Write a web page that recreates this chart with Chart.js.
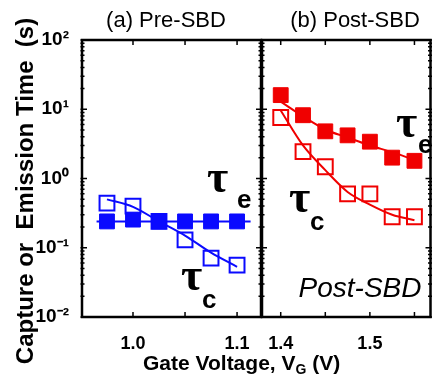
<!DOCTYPE html>
<html>
<head>
<meta charset="utf-8">
<script src="https://cdn.jsdelivr.net/npm/chart.js@4.4.0/dist/chart.umd.min.js"></script>
<style>
  body { margin: 0; background: #fff; }
  #wrap { position: relative; width: 443px; height: 376px; }
  canvas { position: absolute; left: 0; top: 0; }
</style>
</head>
<body>
<div id="wrap">
  <canvas id="pre" width="443" height="376" style="width:443px;height:376px"></canvas>
  <canvas id="post" width="443" height="376" style="width:443px;height:376px"></canvas>
</div>
<script>
// (a) Pre-SBD, gate voltage in V, times in s
var preVg = [0.975, 1.0, 1.025, 1.05, 1.075, 1.1];
var preTauE = [0.24, 0.255, 0.24, 0.24, 0.24, 0.24];
var preTauC = [0.44, 0.40, 0.24, 0.13, 0.071, 0.056];
var preFitVg = [0.975, 1.0, 1.025, 1.05, 1.075, 1.1];
var preFitTauC = [0.50, 0.39, 0.24, 0.15, 0.085, 0.053];
var preFitTauEVg = [0.965, 1.113];
var preFitTauE = [0.24, 0.24];

// (b) Post-SBD
var postVg = [1.4, 1.425, 1.45, 1.475, 1.5, 1.525, 1.55];
var postTauE = [16, 8.2, 4.8, 4.2, 3.4, 2.0, 1.8];
var postTauC = [7.6, 2.45, 1.48, 0.60, 0.60, 0.28, 0.28];
var postFitTauE = [12.9, 7.9, 5.1, 3.9, 3.0, 2.4, 1.85];
var postFitTauC = [9.6, 3.0, 1.32, 0.64, 0.42, 0.30, 0.25];

var yTickValues = [0.01, 0.1, 1, 10, 100];
var yTickLabels = ['10\u207B\u00B2', '10\u207B\u00B9', '10\u2070', '10\u00B9', '10\u00B2'];
var preXTicks = [1.0, 1.1];
var preXMinor = [1.0, 1.05, 1.1];
var postXTicks = [1.4, 1.5];
var postXMinor = [1.4, 1.45, 1.5, 1.55];

var BLUE = '#0a0aff';
var RED = '#f00000';
var SANS = "'Liberation Sans', Arial, sans-serif";

function pts(xs, ys) {
    return xs.map(function(x, i) { return {x: x, y: ys[i]}; });
}

function markers(label, xs, ys, color, filled) {
    return {
        label: label, data: pts(xs, ys), showLine: false,
        pointStyle: 'rect', pointRadius: 10.5,
        backgroundColor: filled ? color : 'rgba(0,0,0,0)',
        borderColor: color, borderWidth: filled ? 1 : 2, order: 1
    };
}

function fit(label, xs, ys, color) {
    return {
        label: label, data: pts(xs, ys), pointRadius: 0,
        borderColor: color, borderWidth: 2, fill: false,
        cubicInterpolationMode: 'monotone', order: 2
    };
}

// frame + inward ticks, drawn on each panel
function framePlugin(xMinor) {
    return {
        id: 'frame',
        afterDatasetsDraw: function(chart) {
            var ctx = chart.ctx, a = chart.chartArea;
            var xs = chart.scales.x, ys = chart.scales.y;
            ctx.save();
            ctx.strokeStyle = '#000';
            ctx.lineWidth = 1.5;
            ctx.beginPath();
            xMinor.forEach(function(v) {
                var px = xs.getPixelForValue(v);
                ctx.moveTo(px, a.bottom); ctx.lineTo(px, a.bottom - 5);
                ctx.moveTo(px, a.top); ctx.lineTo(px, a.top + 5);
            });
            for (var d = -2; d <= 2; d++) {
                for (var k = 1; k <= 9; k++) {
                    var v = k * Math.pow(10, d);
                    if (v > 100) break;
                    var py = ys.getPixelForValue(v);
                    var len = k === 1 ? 5 : 2.5;
                    ctx.moveTo(a.left - 1.5, py); ctx.lineTo(a.left + len, py);
                    ctx.moveTo(a.right + 1.5, py); ctx.lineTo(a.right - len, py);
                }
            }
            ctx.stroke();
            ctx.lineWidth = 2.5;
            ctx.strokeRect(a.left, a.top, a.right - a.left, a.bottom - a.top);
            ctx.restore();
        }
    };
}

var textPlugin = {
    id: 'labels',
    afterDraw: function(chart) {
        var ctx = chart.ctx;
        ctx.save();
        ctx.fillStyle = '#000';
        ctx.textBaseline = 'alphabetic';

        ctx.textAlign = 'center';
        ctx.font = '22px ' + SANS;
        ctx.fillText('(a) Pre-SBD', 166, 27);
        ctx.fillText('(b) Post-SBD', 355, 27);

        ctx.save();
        ctx.translate(33, 191);
        ctx.rotate(-Math.PI / 2);
        ctx.font = 'bold 24px ' + SANS;
        ctx.fillText('Capture or  Emission Time  (s)', 0, 0);
        ctx.restore();

        // x title with subscript G
        ctx.textAlign = 'left';
        var x = 143;
        ctx.font = 'bold 21px ' + SANS;
        ctx.fillText('Gate Voltage, V', x, 370);
        x += ctx.measureText('Gate Voltage, V').width;
        ctx.font = 'bold 14px ' + SANS;
        ctx.fillText('G', x, 374);
        x += ctx.measureText('G').width;
        ctx.font = 'bold 21px ' + SANS;
        ctx.fillText(' (V)', x, 370);

        // tau labels
        var tau = 'bold 46px "Liberation Serif", "Times New Roman", serif';
        var sub = 'bold 26px ' + SANS;
        [[207, 192, 237, 208, 'e'], [181, 290, 202, 308, 'c'],
         [396, 137, 418, 153, 'e'], [289, 212, 310, 230, 'c']].forEach(function(t) {
            ctx.font = tau;
            ctx.fillText('\u03C4', t[0], t[1]);
            ctx.font = sub;
            ctx.fillText(t[4], t[2], t[3]);
        });

        ctx.textAlign = 'center';
        ctx.font = 'italic 28px ' + SANS;
        ctx.fillText('Post-SBD', 360, 297);
        ctx.restore();
    }
};

function scales(xmin, xmax, xTicks, showY) {
    return {
        x: {
            type: 'linear', min: xmin, max: xmax,
            grid: {display: false}, border: {display: false},
            afterBuildTicks: function(s) { s.ticks = xTicks.map(function(v) { return {value: v}; }); },
            afterFit: function(s) { s.height = 59; },
            ticks: {
                padding: 8, color: '#000',
                font: {family: SANS, size: 18, weight: 'bold'},
                callback: function(v) { return v.toFixed(1); }
            }
        },
        y: {
            type: 'logarithmic', min: 0.01, max: 100, display: showY,
            grid: {display: false}, border: {display: false},
            afterBuildTicks: function(s) { s.ticks = yTickValues.map(function(v) { return {value: v}; }); },
            afterFit: function(s) { if (showY) s.width = 82; },
            ticks: {
                padding: 5, color: '#000',
                font: {family: SANS, size: 19, weight: 'bold'},
                callback: function(v) { return yTickLabels[yTickValues.indexOf(v)]; }
            }
        }
    };
}

new Chart(document.getElementById('pre'), {
    type: 'line',
    data: {
        datasets: [
            markers('tau_e', preVg, preTauE, BLUE, true),
            markers('tau_c', preVg, preTauC, BLUE, false),
            fit('tau_e fit', preFitTauEVg, preFitTauE, BLUE),
            fit('tau_c fit', preFitVg, preFitTauC, BLUE)
        ]
    },
    options: {
        responsive: false, animation: false, events: [],
        layout: {padding: {left: 0, right: 182, top: 40, bottom: 0}},
        plugins: {legend: {display: false}, tooltip: {enabled: false}},
        scales: scales(0.951, 1.123, preXTicks, true)
    },
    plugins: [framePlugin(preXMinor)]
});

new Chart(document.getElementById('post'), {
    type: 'line',
    data: {
        datasets: [
            markers('tau_e', postVg, postTauE, RED, true),
            markers('tau_c', postVg, postTauC, RED, false),
            fit('tau_e fit', postVg, postFitTauE, RED),
            fit('tau_c fit', postVg, postFitTauC, RED)
        ]
    },
    options: {
        responsive: false, animation: false, events: [],
        layout: {padding: {left: 262, right: 3, top: 40, bottom: 0}},
        plugins: {legend: {display: false}, tooltip: {enabled: false}},
        scales: scales(1.379, 1.568, postXTicks, false)
    },
    plugins: [framePlugin(postXMinor), textPlugin]
});
</script>
</body>
</html>
